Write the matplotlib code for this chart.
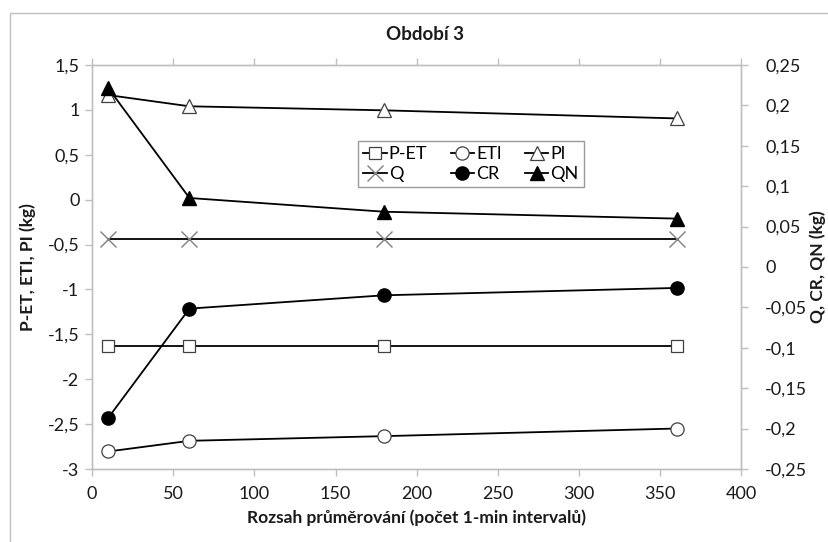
import matplotlib
matplotlib.use("Agg")
import matplotlib.pyplot as plt
from matplotlib.ticker import FuncFormatter, MultipleLocator
from matplotlib.patches import Rectangle

plt.rcParams['font.family'] = ['Lato', 'DejaVu Sans']

# ---- data ----
x_vals = [10, 60, 180, 360]
p_et = [-1.63, -1.63, -1.63, -1.63]
eti = [-2.805, -2.686, -2.634, -2.549]
pi_ = [1.165, 1.04, 0.995, 0.905]
q = [0.0351, 0.0351, 0.0351, 0.0351]
cr = [-0.1867, -0.0515, -0.0350, -0.0259]
qn = [0.2214, 0.0854, 0.0684, 0.0599]

title = "Období 3"
xlabel = "Rozsah průměrování (počet 1-min intervalů)"
ylabel_left = "P-ET, ETI, PI (kg)"
ylabel_right = "Q, CR, QN (kg)"

W, H = 829, 542
fig = plt.figure(figsize=(W / 100, H / 100), dpi=100)
L, R, T, B = 92, 741.5, 65, 469
ax = fig.add_axes([L / W, 1 - B / H, (R - L) / W, (B - T) / H])
ax2 = ax.twinx()

gray = '#bfbfbf'
txt = '#1a1a1a'
lw = 1.3
fs_tick = 13
fs_lab = 12.5

def fmt(v, pos):
    s = '{:.2f}'.format(v).rstrip('0').rstrip('.')
    if s in ('-0', ''):
        s = '0'
    return s.replace('.', ',')

h_pet, = ax.plot(x_vals, p_et, color='black', lw=lw, marker='s', ms=8.5,
                 mfc='white', mec='#404040', mew=0.9, label='P-ET')
h_eti, = ax.plot(x_vals, eti, color='black', lw=lw, marker='o', ms=9.5,
                 mfc='white', mec='#404040', mew=0.9, label='ETl')
h_pi, = ax.plot(x_vals, pi_, color='black', lw=lw, marker='^', ms=10,
                mfc='white', mec='#404040', mew=0.9, label='Pl')
h_q, = ax2.plot(x_vals, q, color='black', lw=lw, marker='x', ms=12,
                mec='#808080', mew=1.0, label='Q')
h_cr, = ax2.plot(x_vals, cr, color='black', lw=lw, marker='o', ms=9.5,
                 mfc='black', mec='black', label='CR')
h_qn, = ax2.plot(x_vals, qn, color='black', lw=lw, marker='^', ms=10,
                 mfc='black', mec='black', label='QN')

ax.set_xlim(0, 400)
ax.set_ylim(-3, 1.5)
ax2.set_ylim(-0.25, 0.25)
ax.xaxis.set_major_locator(MultipleLocator(50))
ax.yaxis.set_major_locator(MultipleLocator(0.5))
ax2.yaxis.set_major_locator(MultipleLocator(0.05))
ax.yaxis.set_major_formatter(FuncFormatter(fmt))
ax2.yaxis.set_major_formatter(FuncFormatter(fmt))
ax.xaxis.set_major_formatter(FuncFormatter(fmt))

for a in (ax, ax2):
    for s in a.spines.values():
        s.set_color(gray)
        s.set_linewidth(1.0)
ax.tick_params(axis='both', direction='out', length=5, width=1.0, color=gray,
               labelcolor=txt, labelsize=fs_tick, pad=4)
ax.tick_params(axis='x', top=True, labeltop=False, pad=7)
ax2.tick_params(axis='y', direction='out', length=5, width=1.0, color=gray,
                labelcolor=txt, labelsize=fs_tick, pad=12)

ax.set_xlabel(xlabel, fontsize=fs_lab, fontweight='bold', color=txt)
ax.set_ylabel(ylabel_left, fontsize=fs_lab, fontweight='bold', color=txt)
ax2.set_ylabel(ylabel_right, fontsize=fs_lab, fontweight='bold', color=txt)
ax.xaxis.set_label_coords(0.5, -(518 - B) / (B - T))
ax.yaxis.set_label_coords((28 - L) / (R - L), 0.5)
ax2.yaxis.set_label_coords((818 - L) / (R - L), 0.5)
ax.xaxis.label.set_va('center')
ax.yaxis.label.set_va('center')
ax2.yaxis.label.set_va('center')

fig.text(425 / W, 1 - 35 / H, title, ha='center', va='center', fontsize=13.5,
         fontweight='bold', color=txt)

leg = ax2.legend(handles=[h_pet, h_q, h_eti, h_cr, h_pi, h_qn], ncol=3,
                 loc='upper left', bbox_to_anchor=((358 - L) / (R - L), (B - 141) / (B - T)),
                 borderaxespad=0, frameon=True, fancybox=False, fontsize=fs_tick,
                 handlelength=1.3, handletextpad=0.1, columnspacing=1.3,
                 labelspacing=0.2, borderpad=0.3)
leg.get_frame().set_edgecolor('#808080')
leg.get_frame().set_linewidth(1.0)

fig.patches.append(Rectangle((10 / W, -0.1), 1.2, (H - 13) / H + 0.1,
                             transform=fig.transFigure, fill=False,
                             ec=gray, lw=1.0))

fig.savefig('out.png', dpi=100)
